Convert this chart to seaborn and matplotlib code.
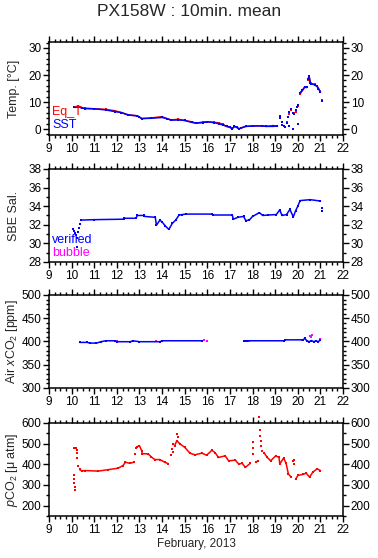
import numpy as np
import pandas as pd
import matplotlib
matplotlib.use("Agg")
import matplotlib.pyplot as plt
import matplotlib.ticker as mticker
import seaborn as sns

# ── data (days of February 2013) ─────────────────────────────────────────────
nan = np.nan

sst_day = [10.15, 10.3, 10.45, 10.6, 11.0, 11.5, 11.9, 12.2, 12.5, 12.9, 13.0, 13.1,
           13.5, 14.0, 14.2, 14.4, 14.7, 15.0, 15.3, 15.5, 15.8, 16.0, 16.3, 16.5,
           16.7, 16.85, 17.0, 17.1, 17.2, 17.3, 17.4, 17.5, 17.7, 18.0, 18.4, 18.6,
           18.9, 19.1, nan, 20.1, 20.2, 20.3, 20.4, nan, 20.45, 20.5, 20.55, 20.6,
           20.75, 20.85, 20.9, 21.0]
sst_val = [8.0, 8.3, 7.8, 7.6, 7.5, 7.1, 6.5, 6.1, 5.2, 4.9, 4.4, 3.9,
           4.0, 4.3, 3.9, 3.3, 3.4, 3.2, 2.5, 2.2, 2.4, 2.7, 2.4, 2.0,
           1.5, 1.0, 0.6, 0.1, 1.0, 0.6, 0.1, 0.4, 1.0, 1.1, 1.2, 1.0,
           1.0, 1.1, nan, 13.5, 14.3, 15.5, 15.4, nan, 18.5, 19.5, 17.2, 16.8,
           16.3, 15.8, 15.0, 13.8]
eqt_val = [8.2, 8.6, 7.8, 7.7, 7.5, 7.3, 6.8, 6.1, 5.3, 4.9, 4.4, 3.9,
           4.1, 4.6, 3.9, 3.4, 3.6, 3.2, 2.7, 2.2, 2.6, 2.7, 2.5, 2.3,
           1.7, 1.0, 0.8, 0.3, 1.0, 0.7, 0.1, 0.5, 1.0, 1.2, 1.2, 1.0,
           1.3, 1.1, nan, 13.0, 14.3, 15.5, 15.4, nan, 18.2, 19.3, 17.5, 16.8,
           16.5, 15.8, 15.3, 13.8]
sst_dot_day = [10.1, 19.2, 19.22, 19.28, 19.32, 19.38, 19.45, 19.5, 19.55, 19.6,
               19.63, 19.68, 19.72, 19.78, 19.8, 19.85, 19.9, 19.95, 20.0, 20.02, 21.05]
sst_dot_val = [8.0, 5.0, 4.2, 2.5, 1.5, 1.0, 0.6, 2.4, 4.5, 1.2,
               6.5, 7.5, 7.3, 6.0, 0.2, 5.5, 7.0, 8.2, 8.8, 2.0, 10.3]
eqt_dot_val = [8.0, 4.6, 4.2, 2.8, 1.5, 1.2, 0.6, 2.8, 4.5, 1.2,
               5.5, 7.2, 7.3, 6.0, 0.2, 6.0, 6.5, 8.2, 8.5, 2.0, 10.8]

sal_day = [10.4, 11.0, 12.3, 12.32, 12.85, 12.9, 13.2, 13.22, 13.7, 13.75, 13.9, 14.0,
           14.15, 14.3, 14.45, 14.6, 14.75, 14.9, 15.05, 16.2, 16.25, 17.1, 17.15, 17.35,
           17.6, 17.7, 17.85, 18.0, 18.3, 18.45, 18.7, 19.05, 19.2, 19.3, 19.5, 19.65,
           19.8, 19.9, 20.0, 20.1, 20.55, 21.0]
sal_val = [32.5, 32.55, 32.6, 32.7, 32.7, 33.0, 33.0, 32.9, 32.8, 31.95, 32.5, 32.3,
           31.85, 31.5, 32.15, 32.5, 33.05, 33.1, 33.15, 33.15, 33.05, 33.05, 32.6, 32.8,
           32.9, 32.45, 32.5, 32.9, 33.3, 33.0, 33.05, 33.1, 33.6, 33.0, 33.1, 33.65,
           32.85, 33.5, 34.0, 34.6, 34.7, 34.55]
sal_dot_day = [10.05, 10.1, 10.15, 10.2, 10.25, 10.28, 10.32, 10.35, 10.22, 21.05, 21.06]
sal_dot_val = [31.5, 31.3, 31.1, 30.9, 30.6, 31.2, 31.7, 32.1, 29.6, 33.8, 33.5]

air_day = [10.35, 10.7, 10.8, 11.1, 11.3, 11.5, 11.9, 12.0, 12.6, 12.7, 13.0, 13.9,
           14.0, 15.75, nan, 17.6, 17.65, nan, 17.75, 19.4, 19.45, 20.25, 20.3, 20.4,
           20.5, 20.6, 20.7, 20.8, 20.9, 21.0]
air_val = [398, 398, 396.5, 396.5, 399.5, 401.5, 401.5, 399.5, 399.5, 401.5, 399.5, 399.5,
           401.5, 401.5, nan, 401.5, 401.5, nan, 401.5, 401.5, 403.5, 403.5, 407, 401.5,
           399.5, 402, 399.5, 401.5, 399.5, 403.5]
bub_day = [12.0, 13.75, 15.85, 16.0, 17.85, 20.2, 20.55, 20.6, 20.62, 21.0]
bub_val = [402, 401, 404, 402, 402, 404, 411, 409, 413, 405]

pco2_day = [10.35, 10.45, 10.6, 11.17, 11.61, 12.05, 12.27, 12.38, 12.57, 12.76, nan,
            12.9, 13.0, 13.1, 13.12, 13.38, 13.53, 13.68, 13.9, 14.12, 14.27, nan,
            14.55, 14.65, 14.8, 15.0, 15.24, 15.46, 15.75, 15.97, 16.2, 16.34, 16.49,
            16.79, 16.94, 17.24, 17.39, 17.54, 17.68, 17.9, nan,
            18.13, 18.25, nan, 18.5, 18.65, 18.8, 19.02, 19.17, 19.2, 19.37, 19.48,
            19.58, 19.7, nan, 19.9, 20.0, 20.22, 20.37, 20.52, 20.66, 20.85, 21.0]
pco2_val = [375, 368, 370, 367, 374, 381, 394, 410, 405, 410, nan,
            485, 490, 465, 451, 451, 435, 423, 423, 410, 403, nan,
            490, 514, 498, 482, 453, 446, 454, 444, 468, 457, 433,
            441, 417, 420, 401, 405, 385, 405, nan,
            410, 417, nan, 457, 433, 417, 441, 433, 401, 430, 405,
            354, 338, nan, 327, 346, 351, 357, 338, 362, 378, 370]
pco2_dot_day = [10.09, 10.1, 10.11, 10.12, 10.13, 10.14, 10.2, 10.22, 10.24, 10.26,
                10.3, 12.82, 12.86, 14.39, 14.42, 14.46, 14.5, 14.68, 14.7,
                18.0, 18.02, 18.04, 18.3, 18.32, 18.33, 18.35, 18.38, 18.4,
                19.8, 19.82, 19.84]
pco2_dot_val = [479, 346, 330, 310, 290, 275, 480, 455, 432, 470,
                394, 451, 480, 443, 475, 500, 459, 549, 530,
                506, 480, 450, 627, 564, 537, 514, 490, 466,
                417, 401, 420]

# ── style ─────────────────────────────────────────────────────────────────────
sns.set_theme(style="ticks")
plt.rcParams["font.family"] = ["Liberation Sans", "DejaVu Sans"]
plt.rcParams["mathtext.fontset"] = "custom"
plt.rcParams["mathtext.rm"] = "Liberation Sans"
plt.rcParams["mathtext.it"] = "Liberation Sans:italic"
plt.rcParams["axes.linewidth"] = 1.1

RED, BLUE, MAG = "#ff0000", "#0000ff", "#ff00ff"


def draw_line(ax, days, vals, color):
    d = pd.DataFrame({"day": days, "val": vals})
    d["seg"] = d["val"].isna().cumsum()
    d = d.dropna()
    sns.lineplot(data=d, x="day", y="val", units="seg", estimator=None, ax=ax,
                 color=color, lw=1.1, marker="s", markersize=1.5,
                 markeredgewidth=0, legend=False)


def draw_dots(ax, days, vals, color, clip=True):
    sns.scatterplot(x=days, y=vals, ax=ax, color=color, marker="s", s=3,
                    linewidth=0, legend=False, clip_on=clip)


def style_axis(ax, ylim, ymajor, yminor, ylabel):
    ax.set_xlim(9, 22)
    ax.set_ylim(*ylim)
    ax.xaxis.set_major_locator(mticker.MultipleLocator(1))
    ax.xaxis.set_minor_locator(mticker.MultipleLocator(0.25))
    ax.yaxis.set_major_locator(mticker.MultipleLocator(ymajor))
    ax.yaxis.set_minor_locator(mticker.MultipleLocator(yminor))
    ax.tick_params(which="both", direction="out", top=True, right=True,
                   labelright=True, labelsize=8.5, width=1, pad=1.5, colors="black")
    ax.tick_params(which="major", length=4)
    ax.tick_params(which="minor", length=2.5)
    ax.set_xlabel("")
    ax.set_ylabel(ylabel, fontsize=9)
    ax.yaxis.set_label_coords(-0.1, 0.5)
    for s in ax.spines.values():
        s.set_visible(True)
        s.set_color("black")


fig = plt.figure(figsize=(3.78, 5.58), dpi=100)
L, W, H = 0.1296, 0.778, 0.1667
ax1 = fig.add_axes([L, 0.758, W, H])
ax2 = fig.add_axes([L, 0.5305, W, H])
ax3 = fig.add_axes([L, 0.3047, W, H])
ax4 = fig.add_axes([L, 0.0753, W, H])

# Temperature
draw_line(ax1, sst_day, eqt_val, RED)
draw_dots(ax1, sst_dot_day, eqt_dot_val, RED)
draw_line(ax1, sst_day, sst_val, BLUE)
draw_dots(ax1, sst_dot_day, sst_dot_val, BLUE)
style_axis(ax1, (-2.2, 32.2), 10, 2, "Temp. [°C]")
ax1.text(0.01, 0.25, "Eq_T", color=RED, fontsize=9, transform=ax1.transAxes, va="center")
ax1.text(0.01, 0.11, "SST", color=BLUE, fontsize=9, transform=ax1.transAxes, va="center")

# Salinity
draw_line(ax2, sal_day, sal_val, BLUE)
draw_dots(ax2, sal_dot_day, sal_dot_val, BLUE)
style_axis(ax2, (28, 38), 2, 1, "SBE Sal.")
ax2.text(0.01, 0.24, "verified", color=BLUE, fontsize=9, transform=ax2.transAxes, va="center")
ax2.text(0.01, 0.10, "bubble", color=MAG, fontsize=9, transform=ax2.transAxes, va="center")

# Air xCO2
draw_line(ax3, air_day, air_val, BLUE)
draw_dots(ax3, bub_day, bub_val, MAG)
style_axis(ax3, (300, 500), 50, 10, r"Air $x$CO$_2$ [ppm]")

# pCO2
draw_line(ax4, pco2_day, pco2_val, RED)
draw_dots(ax4, pco2_dot_day, pco2_dot_val, RED, clip=False)
style_axis(ax4, (150, 600), 100, 50, r"$p$CO$_2$ [μ atm]")
ax4.set_xlabel("February, 2013", fontsize=8.5, labelpad=2)

fig.text(0.5, 1 - 12 / 558, "PX158W : 10min. mean", ha="center", va="center", fontsize=12.5)

fig.savefig("out.png", dpi=100)
